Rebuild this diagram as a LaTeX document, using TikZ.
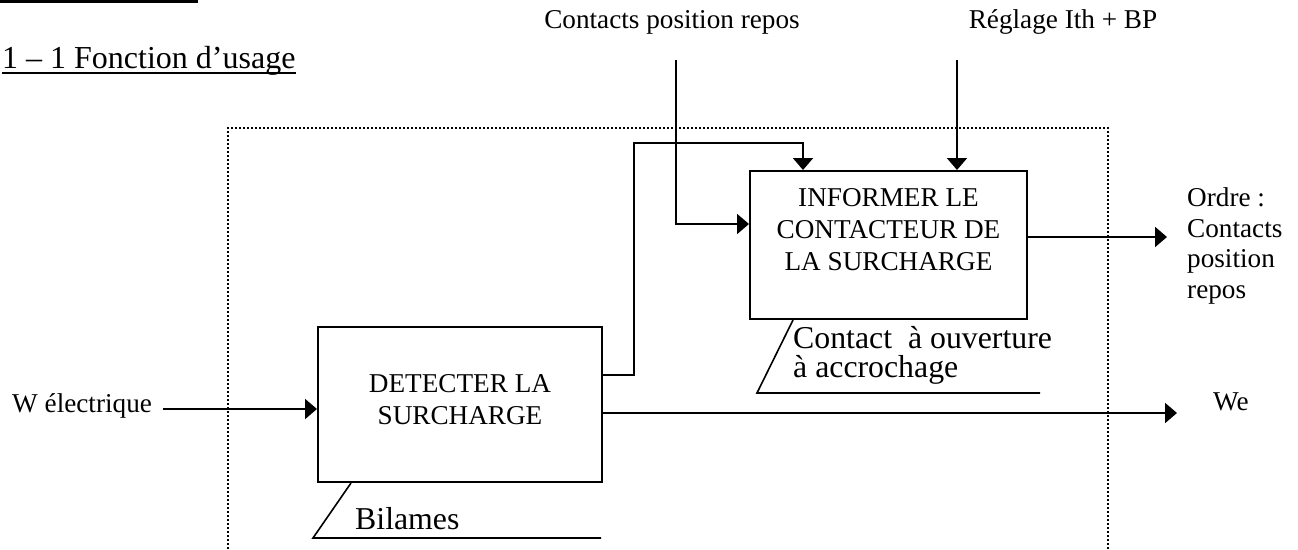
\documentclass[tikz,border=0pt]{standalone}
\usepackage{fontspec}
\setmainfont{Liberation Serif}
\usetikzlibrary{arrows.meta}
\begin{document}
\begin{tikzpicture}[x=1pt,y=-1pt,
  every node/.style={inner sep=0pt},
  conn/.style={line width=2pt},
  arr/.style={conn,-{Triangle[length=12pt,width=20pt]}},
  fbox/.style={draw,line width=2pt,rectangle},
  smalltxt/.style={font=\fontsize{27.2}{32}\selectfont},
  ordretxt/.style={font=\fontsize{27.2}{30.5}\selectfont},
  bigtxt/.style={font=\fontsize{31.8}{29}\selectfont},
  frame/.style={line width=2.2pt,dash pattern=on 2pt off 2pt},
  mech/.style={line width=1.6pt}
]
\useasboundingbox (0,0) rectangle (1298,549);

% heading remnants
\fill (0,0) rectangle (198,2.5);
\node[bigtxt,font=\fontsize{32}{36}\selectfont,anchor=base west] (title) at (2,68) {1 – 1 Fonction d’usage};
\draw[line width=2pt] ([yshift=-4.5pt]title.base west) -- ([yshift=-4.5pt]title.base east);

% system frame (open at the bottom)
\draw[frame] (228,549) -- (228,128) -- (1108,128) -- (1108,549);

% function boxes
\node[fbox,minimum width=284pt,minimum height=155pt,
  label={[smalltxt,align=center,yshift=4.5pt]center:DETECTER LA\\SURCHARGE}] (det) at (460,404.5) {};
\node[fbox,minimum width=277pt,minimum height=148pt,
  label={[smalltxt,align=center,yshift=15.5pt]center:INFORMER LE\\CONTACTEUR DE\\LA SURCHARGE}] (inf) at (888.5,245) {};

% labels
\node[smalltxt,anchor=base west] (wlab) at (12,412) {W électrique};
\node[smalltxt,anchor=base west] (we) at (1213,410) {We};
\node[smalltxt,anchor=base] (cpr) at (672,28) {Contacts position repos};
\node[smalltxt,anchor=base] (reg) at (1063,28) {Réglage Ith + BP};
\node[ordretxt,anchor=north west,align=left] (ordre) at (1187,187.5) {Ordre :\\Contacts\\position\\repos};
\node[bigtxt,anchor=base west] (bil) at (355,529) {Bilames};
\node[bigtxt,anchor=north west,align=left] (cmech) at (793,326.5) {Contact\ \ à ouverture\\à accrochage};

% free ends
\coordinate (win) at (163,409);
\coordinate (weend) at (1177,413);
\coordinate (cprs) at (676,60);
\coordinate (regs) at (957,60);
\coordinate (oend) at (1167,237);

% connectors
\draw[arr] (win) -- (det.west |- win);
\draw[arr] (det.east |- weend) -- (weend);
\draw[arr] (det.east |- 0,375) -- (634,375) -- (634,143) -| ([xshift=-85.5pt]inf.north);
\draw[arr] (cprs) -- (676,224) -- (inf.west |- 0,224);
\draw[arr] (regs) -- (inf.north -| regs);
\draw[arr] (inf.east |- oend) -- (oend);

% mechanism supports
\draw[mech] (inf.south -| 793,0) -- (757,393) -- (1040,393);
\draw[mech] (det.south -| 351,0) -- (313,538) -- (601,538);
\end{tikzpicture}
\end{document}
